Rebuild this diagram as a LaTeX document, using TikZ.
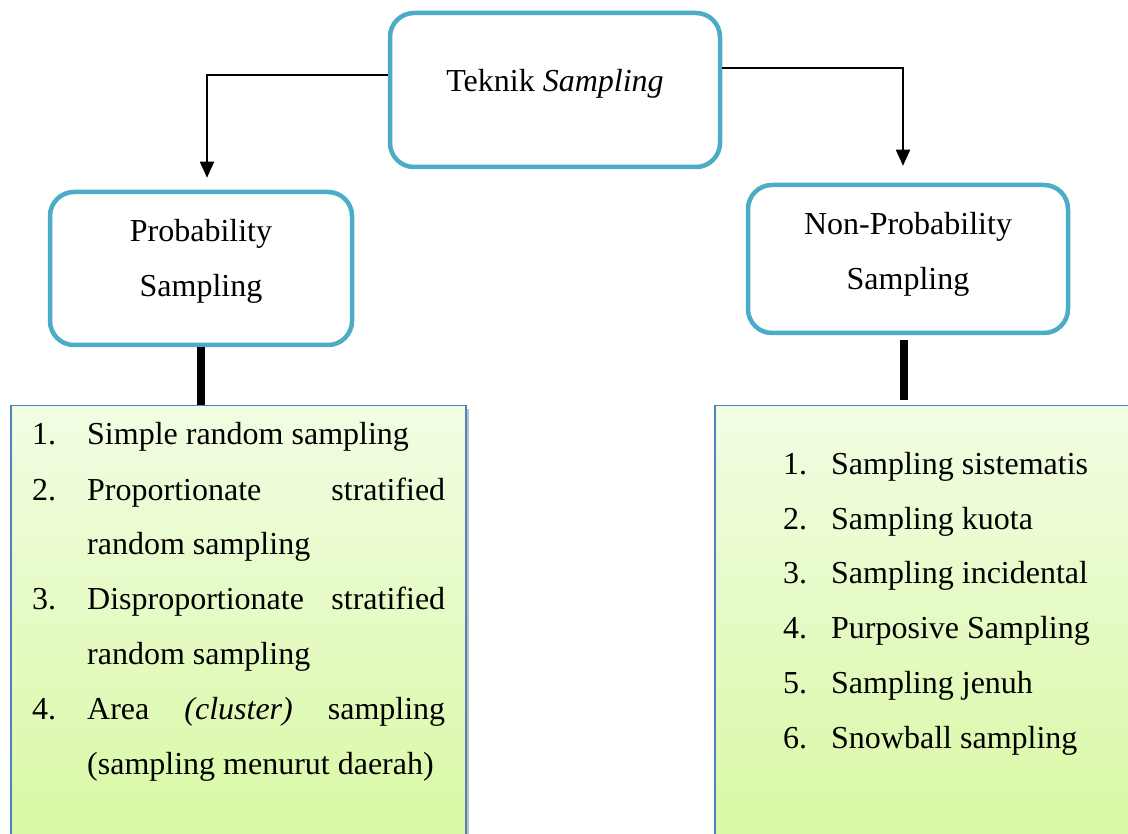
\documentclass[tikz,border=0pt]{standalone}
\usepackage{fontspec}
\setmainfont{Liberation Serif}
\usetikzlibrary{arrows.meta,shadows}
\definecolor{cyanb}{HTML}{4BACC6}
\definecolor{blueb}{HTML}{4F81BD}
\definecolor{gtop}{HTML}{F1FDE3}
\definecolor{gbot}{HTML}{D9F8A3}
\newcommand\itemrow[4]{\hbox to #1{\hbox to #2{#3\hfil}#4}}
\begin{document}
\begin{tikzpicture}[x=1pt,y=-1pt,
  rbox/.style={draw=cyanb, line width=4.5pt, rounded corners=24pt, fill=white, inner sep=0pt},
  lbox/.style={draw=blueb, line width=1.5pt, top color=gtop, bottom color=gbot, inner sep=0pt, anchor=north west,
    drop shadow={shadow xshift=3pt, shadow yshift=-3pt, opacity=0.25, fill=black}},
  arr/.style={line width=1.8pt, -{Triangle[length=16pt,width=14pt]}},
  bar/.style={line width=8pt},
  txt/.style={inner sep=0pt, font=\fontsize{32}{55}\selectfont},
]
\useasboundingbox (0,0) rectangle (1128,834);
\clip (0,0) rectangle (1128,834);
\fill[white] (0,0) rectangle (1128,834);

% top box
\node[rbox, minimum width=330pt, minimum height=154pt] (top) at (555,90) {};
\node[txt, anchor=base] (toptxt) at (555,92) {Teknik \textit{Sampling}};

% category boxes
\node[rbox, minimum width=302pt, minimum height=153pt] (prob) at (201,268.5) {};
\node[txt, anchor=base] (probtxt) at (201,242) {\vtop{\baselineskip=55pt\halign{\hfil#\hfil\cr Probability\cr Sampling\cr}}};

\node[rbox, minimum width=320pt, minimum height=148pt] (nonprob) at (908,259) {};
\node[txt, anchor=base] (nonprobtxt) at (908,235) {\vtop{\baselineskip=55pt\halign{\hfil#\hfil\cr Non-Probability\cr Sampling\cr}}};

% arrows
\draw[arr] ([yshift=15pt]top.west) -| ([xshift=6pt,yshift=12pt]prob.north);
\draw[arr] ([yshift=22pt]top.east) -| ([xshift=-5pt,yshift=17pt]nonprob.north);

% list boxes
\node[lbox, minimum width=455pt, minimum height=440pt] (problist) at (10,405) {};
\node[lbox, minimum width=430pt, minimum height=440pt] (nplist) at (714,405) {};

% thick connectors
\draw[bar] (prob.south) -- (prob.south |- problist.north);
\draw[bar, shorten >=5pt] ([xshift=-4pt,yshift=-5pt]nonprob.south) -- ([xshift=-4pt]nonprob.south |- nplist.north);

% list texts
\node[txt, anchor=base west] (problisttxt) at (32,445) {\vtop{\baselineskip=55pt
\itemrow{413pt}{55pt}{1.}{Simple random sampling\hfil}
\itemrow{413pt}{55pt}{2.}{Proportionate\hfill stratified}
\itemrow{413pt}{55pt}{}{random sampling\hfil}
\itemrow{413pt}{55pt}{3.}{Disproportionate\hfill stratified}
\itemrow{413pt}{55pt}{}{random sampling\hfil}
\itemrow{413pt}{55pt}{4.}{Area\hfill\textit{(cluster)}\hfill sampling}
\itemrow{413pt}{55pt}{}{(sampling menurut daerah)\hfil}}};

\node[txt, anchor=base west] (nplisttxt) at (783,474) {\vtop{\baselineskip=55pt
\itemrow{320pt}{48pt}{1.}{Sampling sistematis\hfil}
\itemrow{320pt}{48pt}{2.}{Sampling kuota\hfil}
\itemrow{320pt}{48pt}{3.}{Sampling incidental\hfil}
\itemrow{320pt}{48pt}{4.}{Purposive Sampling\hfil}
\itemrow{320pt}{48pt}{5.}{Sampling jenuh\hfil}
\itemrow{320pt}{48pt}{6.}{Snowball sampling\hfil}}};
\end{tikzpicture}
\end{document}
